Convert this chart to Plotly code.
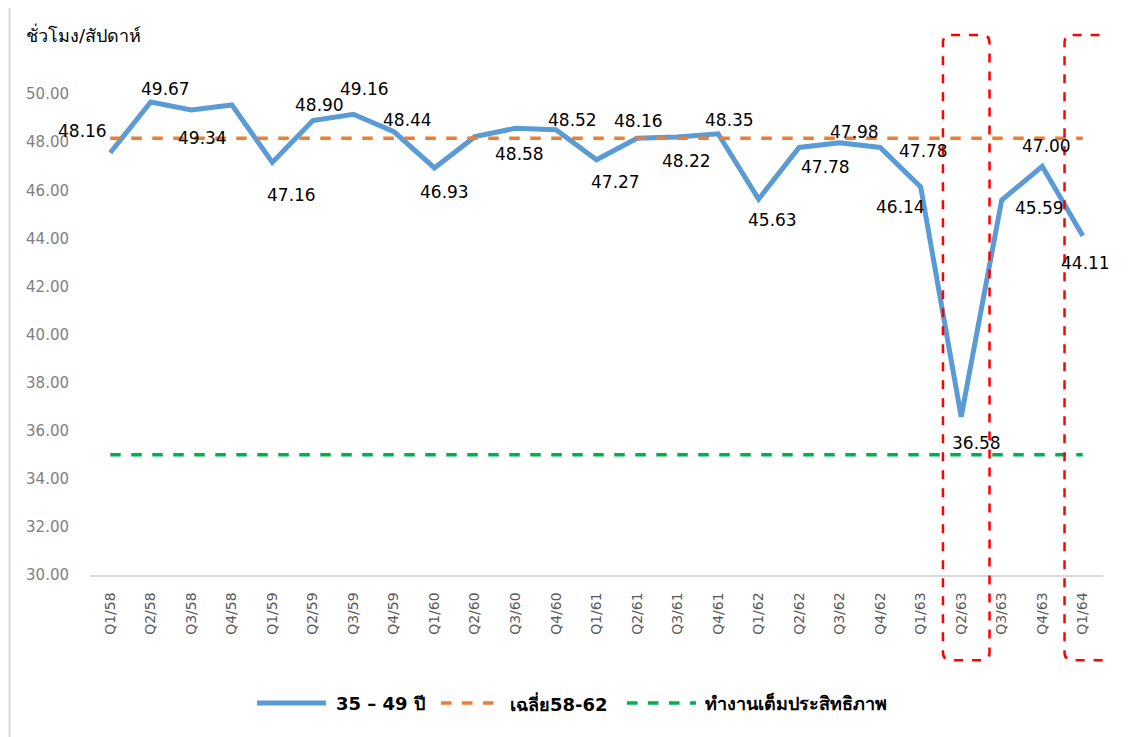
import plotly.graph_objects as go

quarters = ["Q1/58","Q2/58","Q3/58","Q4/58","Q1/59","Q2/59","Q3/59","Q4/59",
            "Q1/60","Q2/60","Q3/60","Q4/60","Q1/61","Q2/61","Q3/61","Q4/61",
            "Q1/62","Q2/62","Q3/62","Q4/62","Q1/63","Q2/63","Q3/63","Q4/63","Q1/64"]
hours_35_49 = [47.56, 49.67, 49.34, 49.55, 47.16, 48.90, 49.16, 48.44,
               46.93, 48.23, 48.58, 48.52, 47.27, 48.16, 48.22, 48.35,
               45.63, 47.78, 47.98, 47.78, 46.14, 36.58, 45.59, 47.00, 44.11]
avg_58_62 = 48.16
full_eff = 35.0
highlight = ["Q2/63", "Q1/64"]
series_names = ["35 – 49 ปี", "เฉลี่ย58-62", "ทำงานเต็มประสิทธิภาพ"]
series_colors = ["#5B9BD5", "#ED7D31", "#00B050"]

# label visibility and pixel offsets (style only)
show_label = [False, True, True, False, True, True, True, True, True, False, True, True,
              True, True, True, True, True, True, True, True, True, True, True, True, True]
label_dx = [0, 15, 11, 0, 19, 7, 11, 14, 10, 0, 4, 17, 19, 1, 9, 11, 14, 26, 15, 43, -20, 15, 38, 4, 3]
label_dy = [0, -13, 28, 0, 33, -16, -25, -12, 24, 0, 26, -10, 22, -17, 24, -14, 21, 20, -11, 4, 20, 26, 8, -20, 27]

LABEL_FONT = dict(family="DejaVu Sans", size=17, color="#000000")

fig = go.Figure()
fig.add_trace(go.Scatter(
    x=quarters, y=hours_35_49, mode="lines", name=series_names[0],
    line=dict(color=series_colors[0], width=5),
))
fig.add_trace(go.Scatter(
    x=quarters, y=[avg_58_62] * len(quarters), mode="lines", name=series_names[1],
    line=dict(color=series_colors[1], width=3.5, dash="dash"),
))
fig.add_trace(go.Scatter(
    x=quarters, y=[full_eff] * len(quarters), mode="lines", name=series_names[2],
    line=dict(color=series_colors[2], width=3.5, dash="dash"),
))

annotations = []
for q, v, s, dx, dy in zip(quarters, hours_35_49, show_label, label_dx, label_dy):
    if s:
        annotations.append(dict(x=q, y=v, xref="x", yref="y", text=f"{v:.2f}",
                                showarrow=False, xshift=dx, yshift=-dy, font=LABEL_FONT))
annotations.append(dict(x=quarters[0], y=avg_58_62, xref="x", yref="y", text=f"{avg_58_62:.2f}",
                        showarrow=False, xshift=-28, yshift=7, font=LABEL_FONT))
annotations.append(dict(text="ชั่วโมง/สัปดาห์", xref="paper", yref="paper",
                        x=-0.065, y=1.021, xanchor="left", yanchor="middle", showarrow=False,
                        font=dict(size=18, color="#000000")))

shapes = []
for q in highlight:
    i = quarters.index(q)
    x0, x1 = i - 0.45, i + 0.7
    y0, y1 = -0.161, 1.021
    rx, ry = 0.2, 0.015
    path = (f"M {x0+rx},{y1} L {x1-rx},{y1} Q {x1},{y1} {x1},{y1-ry} "
            f"L {x1},{y0+ry} Q {x1},{y0} {x1-rx},{y0} L {x0+rx},{y0} "
            f"Q {x0},{y0} {x0},{y0+ry} L {x0},{y1-ry} Q {x0},{y1} {x0+rx},{y1} Z")
    shapes.append(dict(type="path", xref="x", yref="paper", path=path,
                       line=dict(color="#FF0000", width=2.5, dash="dash"),
                       fillcolor="rgba(0,0,0,0)", layer="above"))
# chart-area frame on the left
shapes.append(dict(type="line", xref="paper", yref="paper",
                   x0=-0.0795, x1=-0.0795, y0=1.09, y1=-0.31,
                   line=dict(color="#D9D9D9", width=2)))

# custom legend (wider line samples like the original)
legend_y = -0.242
legend_line_x = [(0.1649, 0.2330), (0.3465, 0.4038), (0.5301, 0.5982)]
legend_text_x = [0.2409, 0.4126, 0.6051]
legend_dash = ["solid", "dash", "dash"]
legend_width = [5, 3.5, 3.5]
for name, col, (lx0, lx1), tx, dsh, w in zip(series_names, series_colors, legend_line_x,
                                              legend_text_x, legend_dash, legend_width):
    shapes.append(dict(type="line", xref="paper", yref="paper", x0=lx0, x1=lx1,
                       y0=legend_y, y1=legend_y, line=dict(color=col, width=w, dash=dsh)))
    annotations.append(dict(text=f"<b>{name}</b>", xref="paper", yref="paper", x=tx, y=legend_y,
                            xanchor="left", yanchor="middle", showarrow=False,
                            font=dict(size=18, color="#000000")))

fig.update_layout(
    width=1123, height=729,
    margin=dict(l=82, r=28, t=38, b=162),
    paper_bgcolor="white", plot_bgcolor="white",
    font=dict(family="DejaVu Sans, Noto Sans", color="#000000"),
    showlegend=False,
    shapes=shapes,
    annotations=annotations,
)
fig.update_xaxes(type="category", range=[-0.5, len(quarters) - 0.5],
                 showgrid=False, showline=True, linecolor="#D9D9D9", linewidth=1.5,
                 tickangle=-90, ticks="", ticklabelstandoff=10,
                 tickfont=dict(size=14, color="#595959"))
fig.update_yaxes(range=[30, 52], tickvals=[30,32,34,36,38,40,42,44,46,48,50],
                 tickformat=".2f", showgrid=False, zeroline=False, showline=False,
                 ticks="", ticklabelstandoff=20,
                 tickfont=dict(size=15, color="#7F7F7F"))

fig.write_html("out.html")
